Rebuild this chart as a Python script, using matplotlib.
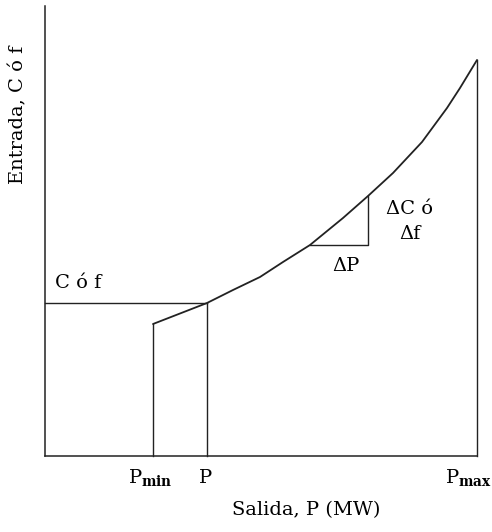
import matplotlib
matplotlib.use("Agg")
import matplotlib.pyplot as plt

# Input-output curve of a generating unit (arbitrary units)
curve_p = [108, 162, 188, 215, 238, 265, 298, 323, 348, 377, 402, 415, 432]
curve_c = [132, 153, 166, 179, 194, 211, 238, 260, 283, 314, 348, 368, 396]

p_min = 108
p_op = 162
p_max = 432
c_op = 153

# Incremental step drawn on the curve
dp_start, dp_end = 265, 323
dc_low, dc_high = 211, 260

tick_labels = [r"$\mathrm{P}_{\mathbf{min}}$", r"$\mathrm{P}$", r"$\mathrm{P}_{\mathbf{max}}$"]

plt.rcParams["font.family"] = ["DejaVu Serif"]
plt.rcParams["mathtext.fontset"] = "dejavuserif"

fig = plt.figure(figsize=(4.92, 5.32), dpi=100)
W, H = 492, 532
ax = fig.add_axes([45 / W, 76 / H, 432 / W, 450 / H])
ax.set_xlim(0, 432)
ax.set_ylim(0, 450)
for s in ("top", "right"):
    ax.spines[s].set_visible(False)
for s in ("left", "bottom"):
    ax.spines[s].set_linewidth(1.1)
    ax.spines[s].set_color("#222222")
ax.set_xticks([])
ax.set_yticks([])

lc = "#222222"
kw = dict(color=lc, clip_on=False)
ax.plot(curve_p, curve_c, lw=1.3, solid_capstyle="round", solid_joinstyle="round", **kw)
ax.plot([p_min, p_min], [0, curve_c[0]], lw=1.0, **kw)
ax.plot([p_op, p_op], [0, c_op], lw=1.0, **kw)
ax.plot([0, p_op], [c_op, c_op], lw=1.0, **kw)
ax.plot([p_max, p_max], [0, curve_c[-1]], lw=1.0, **kw)
ax.plot([dp_start, dp_end, dp_end], [dc_low, dc_low, dc_high], lw=1.0, **kw)

fs = 14
ax.text(10, 173, "C ó f", fontsize=fs, ha="left", va="center")
ax.text((dp_start + dp_end) / 2 + 7, dc_low - 21, "ΔP", fontsize=fs, ha="center", va="center")
ax.text(dp_end + 42, 247, "ΔC ó", fontsize=fs, ha="center", va="center")
ax.text(dp_end + 42, 222, "Δf", fontsize=fs, ha="center", va="center")

for x, lab, dx in zip([p_min, p_op, p_max], tick_labels, [-3, -2, -9]):
    ax.text(x + dx, -22, lab, fontsize=fs, ha="center", va="center", clip_on=False)

ax.text(261, -54, "Salida, P (MW)", fontsize=fs, ha="center", va="center", clip_on=False)
ax.text(-27, 341, "Entrada, C ó f", fontsize=fs, ha="center", va="center",
        rotation=90, clip_on=False)

fig.savefig("out.png", dpi=100)
